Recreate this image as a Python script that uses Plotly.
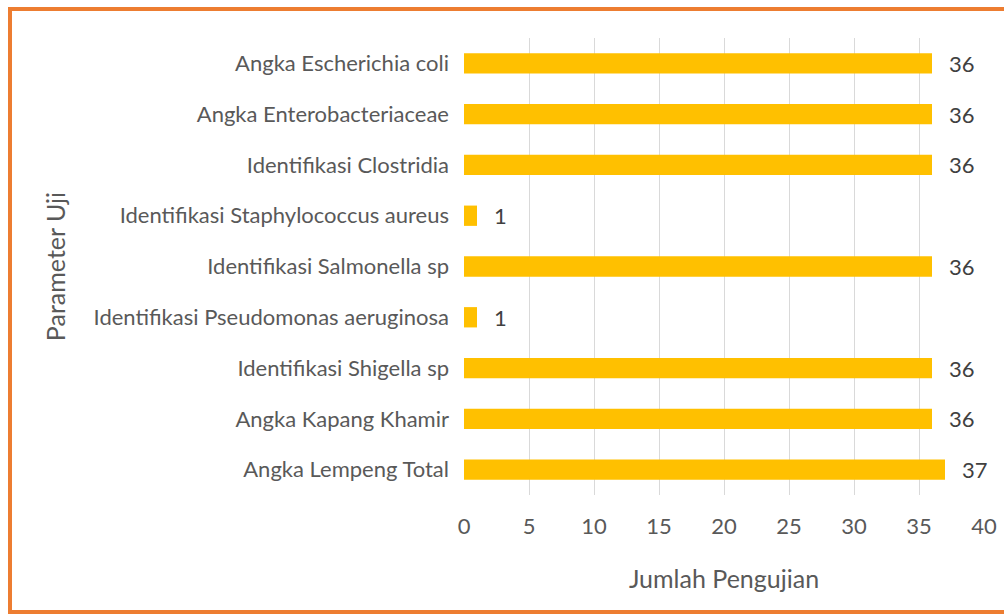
import plotly.graph_objects as go

categories = [
    "Angka Lempeng Total",
    "Angka Kapang Khamir",
    "Identifikasi Shigella sp",
    "Identifikasi Pseudomonas aeruginosa",
    "Identifikasi Salmonella sp",
    "Identifikasi Staphylococcus aureus",
    "Identifikasi Clostridia",
    "Angka Enterobacteriaceae",
    "Angka Escherichia coli",
]
values = [37, 36, 36, 1, 36, 1, 36, 36, 36]
x_ticks = [0, 5, 10, 15, 20, 25, 30, 35, 40]

FONT = "Lato"
GREY = "#595959"
FS = 22
TFS = 25

fig = go.Figure(go.Bar(
    y=categories, x=values, orientation="h",
    marker=dict(color="#FFC000", line=dict(width=0)),
    width=0.4, hoverinfo="x+y",
))

for c, v in zip(categories, values):
    fig.add_annotation(
        x=v, y=c, text=str(v), showarrow=False, xanchor="left",
        xshift=15, font=dict(family=FONT, size=FS, color="#404040"),
    )

W, H = 1004, 614
L, R, T, B = 464, 20, 38, 119
pw, ph = W - L - R, H - T - B

def px(x):
    return (x - L) / pw

def py(y):
    return (H - B - y) / ph

fig.update_layout(
    width=W, height=H,
    margin=dict(l=L, r=R, t=T, b=B, pad=0, autoexpand=False),
    paper_bgcolor="white", plot_bgcolor="white",
    showlegend=False,
    font=dict(family=FONT, size=FS, color=GREY),
    xaxis=dict(
        range=[0, 40], tickvals=x_ticks, showgrid=True, gridcolor="#D9D9D9",
        gridwidth=1, zeroline=False, showline=False, ticks="",
        tickfont=dict(size=FS, color=GREY), ticklabelstandoff=16,
        automargin=False,
        title=dict(text="Jumlah Pengujian", font=dict(size=TFS, color=GREY), standoff=32),
    ),
    yaxis=dict(
        categoryorder="array", categoryarray=categories,
        showgrid=False, zeroline=False, showline=False, ticks="",
        tickfont=dict(size=FS, color=GREY), ticklabelstandoff=14,
        automargin=False,
        title=dict(text="Parameter Uji", font=dict(size=TFS, color=GREY), standoff=20),
    ),
    shapes=[dict(
        type="rect", xref="paper", yref="paper",
        x0=px(10), x1=px(1014), y0=py(612), y1=py(9),
        line=dict(color="#ED7D31", width=4), fillcolor="rgba(0,0,0,0)",
        layer="below",
    )],
)

fig.write_html(
    "out.html",
    config={"displayModeBar": False},
    post_script="document.body.style.margin='0';document.body.style.overflow='hidden';",
)
